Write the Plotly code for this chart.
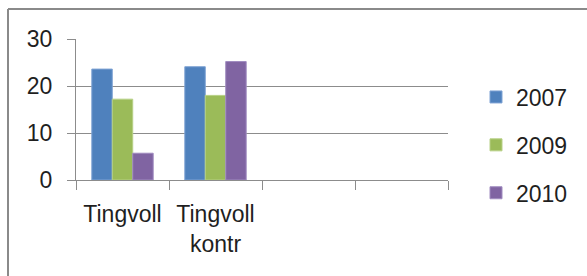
import plotly.graph_objects as go

categories = ["Tingvoll", "Tingvoll<br>kontr", " ", "  "]
series_names = ["2007", "2009", "2010"]
values_2007 = [23.6, 24.1, None, None]
values_2009 = [17.2, 18.0, None, None]
values_2010 = [5.7, 25.2, None, None]
y_ticks = [0, 10, 20, 30]

colors = ["#4F81BD", "#9BBB59", "#8064A2"]
edge = ["#7fa3d4", "#b7d086", "#a08cc0"]

W, H = 587, 276
ML, MR, MT, MB = 76, 139, 39, 96
PW, PH = W - ML - MR, H - MT - MB

def px_x(p):
    return (p - ML) / PW

def px_y(p):
    return 1 - (p - MT) / PH

fig = go.Figure()
for name, vals, c, e in zip(series_names, [values_2007, values_2009, values_2010], colors, edge):
    fig.add_trace(go.Bar(
        x=categories, y=vals, name=name, legendgroup=name,
        marker=dict(color=c, line=dict(color=e, width=1)),
    ))

font = dict(family="Liberation Sans, Arial, sans-serif", size=23, color="#1f1f1f")
grid = "#8c8c8c"

fig.update_layout(
    width=W, height=H,
    margin=dict(l=ML, r=MR, t=MT, b=MB),
    paper_bgcolor="white", plot_bgcolor="white",
    font=font,
    barmode="group", bargap=0.34, bargroupgap=0,
    showlegend=True,
    legend=dict(
        x=px_x(476), xanchor="left", y=px_y(145), yanchor="middle",
        traceorder="grouped", tracegroupgap=15,
        font=font, bgcolor="rgba(0,0,0,0)",
    ),
    xaxis=dict(
        type="category", range=[-0.5, 3.5],
        tickson="boundaries", ticks="outside", ticklen=9, tickcolor=grid, tickwidth=1,
        showline=True, linecolor=grid, linewidth=1,
        showgrid=False, zeroline=False, tickfont=font, fixedrange=True,
        ticklabelstandoff=13,
    ),
    yaxis=dict(
        range=[0, 30], tickvals=y_ticks, ticks="outside", ticklen=8, tickcolor=grid,
        showline=True, linecolor=grid, linewidth=1,
        showgrid=True, gridcolor=grid, gridwidth=1, zeroline=False,
        tickfont=font, ticklabelstandoff=10,
    ),
    shapes=[
        dict(type="line", xref="paper", yref="paper", x0=px_x(8), x1=px_x(590),
             y0=px_y(9), y1=px_y(9), line=dict(color="#8a8a8a", width=2)),
        dict(type="line", xref="paper", yref="paper", x0=px_x(8), x1=px_x(8),
             y0=px_y(9), y1=px_y(280), line=dict(color="#8a8a8a", width=2)),
    ],
)

fig.write_html(
    "out.html",
    config={"displayModeBar": False},
    post_script="document.documentElement.style.margin='0';document.body.style.margin='0';document.body.style.overflow='hidden';",
)
